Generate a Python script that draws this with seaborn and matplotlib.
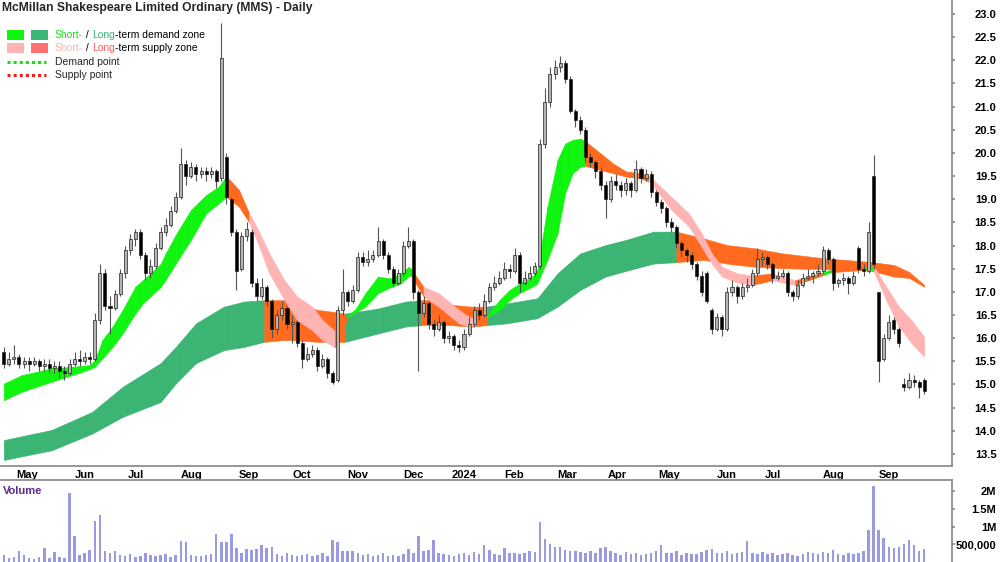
import numpy as np
import pandas as pd
import matplotlib
matplotlib.use('Agg')
import matplotlib.pyplot as plt
from matplotlib.patches import Rectangle
from matplotlib.lines import Line2D
import seaborn as sns

# ---- daily candles, one every second trading day ----
open_px = [15.70, 15.45, 15.55, 15.60, 15.45, 15.50, 15.45, 15.50, 15.40, 15.45,
           15.35, 15.40, 15.30, 15.25, 15.45, 15.55, 15.50, 15.60, 15.55, 16.40,
           17.40, 16.70, 16.65, 16.95, 17.40, 17.90, 18.15, 18.30, 17.80, 17.40,
           17.55, 17.95, 18.30, 18.45, 18.75, 19.05, 19.75, 19.50, 19.70, 19.55,
           19.60, 19.55, 19.60, 19.45, 19.90, 19.00, 18.30, 17.50, 18.20, 18.30,
           17.20, 16.90, 17.10, 16.80, 16.20, 16.50, 16.65, 16.30, 16.35, 15.90,
           15.55, 15.65, 15.75, 15.40, 15.55, 15.25, 15.10, 16.60, 17.00, 16.80,
           17.05, 17.75, 17.65, 17.70, 17.80, 18.10, 17.80, 17.50, 17.20, 17.40,
           18.00, 18.10, 17.00, 16.55, 16.75, 16.30, 16.20, 16.35, 16.00, 16.05,
           15.85, 15.80, 16.10, 16.30, 16.60, 16.50, 16.80, 17.10, 17.20, 17.30,
           17.50, 17.45, 17.80, 17.20, 17.30, 17.40, 17.55, 20.20, 21.10, 21.70,
           21.85, 21.95, 21.60, 20.90, 20.70, 20.50, 19.90, 19.80, 19.60, 19.30,
           19.00, 19.40, 19.30, 19.20, 19.35, 19.20, 19.65, 19.45, 19.55, 19.15,
           18.95, 18.80, 18.50, 18.40, 18.05, 17.90, 17.80, 17.60, 17.35, 17.40,
           16.60, 16.20, 16.45, 16.20, 17.00, 17.10, 16.90, 17.10, 17.15, 17.40,
           17.70, 17.75, 17.60, 17.30, 17.35, 17.40, 17.00, 16.90, 17.15, 17.30,
           17.35, 17.40, 17.45, 17.90, 17.70, 17.20, 17.25, 17.30, 17.20, 17.95,
           17.50, 17.45, 19.50, 17.00, 15.55, 16.00, 16.40, 16.20, 15.00, 14.95,
           15.10, 15.05, 15.10]
high_px = [15.80, 15.70, 15.85, 15.65, 15.60, 15.60, 15.60, 15.55, 15.55, 15.55,
           15.50, 15.50, 15.40, 15.55, 15.70, 15.75, 15.70, 15.70, 16.55, 17.60,
           17.50, 16.90, 17.05, 17.50, 18.00, 18.25, 18.35, 18.35, 17.85, 17.70,
           18.05, 18.40, 18.60, 18.85, 19.15, 20.10, 19.85, 19.80, 19.75, 19.70,
           19.70, 19.70, 19.65, 22.80, 20.00, 19.05, 18.35, 18.30, 18.50, 18.35,
           17.30, 17.30, 17.15, 16.85, 16.60, 16.80, 16.70, 16.50, 16.40, 15.95,
           15.80, 15.85, 15.80, 15.65, 15.60, 15.30, 16.70, 17.50, 17.05, 17.15,
           17.85, 17.85, 17.90, 17.90, 18.40, 18.15, 17.85, 17.55, 17.50, 18.10,
           18.40, 18.15, 17.05, 16.90, 16.80, 16.40, 16.50, 16.40, 16.15, 16.10,
           15.95, 16.20, 16.45, 16.70, 16.75, 16.95, 17.20, 17.35, 17.45, 17.65,
           17.60, 17.95, 17.85, 17.45, 17.55, 17.65, 20.30, 21.40, 21.85, 22.00,
           22.10, 22.00, 21.65, 20.95, 20.80, 20.55, 20.00, 19.85, 19.70, 19.40,
           19.50, 19.55, 19.40, 19.45, 19.40, 19.85, 19.70, 19.65, 19.60, 19.20,
           19.00, 18.85, 18.60, 18.45, 18.10, 17.95, 17.85, 17.65, 17.45, 17.45,
           16.65, 16.55, 16.50, 17.10, 17.25, 17.15, 17.20, 17.30, 17.50, 17.95,
           17.85, 17.80, 17.65, 17.45, 17.50, 17.45, 17.05, 17.25, 17.40, 17.50,
           17.45, 17.60, 18.00, 17.95, 17.75, 17.30, 17.40, 17.35, 17.45, 18.00,
           17.60, 18.50, 19.95, 17.00, 16.10, 16.50, 16.45, 16.25, 15.15, 15.25,
           15.20, 15.10, 15.15]
low_px = [15.35, 15.40, 15.45, 15.35, 15.35, 15.30, 15.40, 15.30, 15.30, 15.25,
          15.25, 15.15, 15.10, 15.20, 15.40, 15.40, 15.45, 15.45, 15.50, 16.30,
          16.60, 16.10, 16.60, 16.90, 17.30, 17.80, 18.00, 17.70, 17.25, 17.30,
          17.50, 17.90, 18.20, 18.40, 18.70, 19.00, 19.30, 19.45, 19.40, 19.45,
          19.40, 19.45, 19.25, 19.40, 18.90, 18.20, 17.05, 17.45, 18.10, 17.10,
          16.80, 16.85, 16.70, 16.00, 16.10, 16.40, 16.20, 15.90, 15.80, 15.35,
          15.50, 15.60, 15.30, 15.35, 15.15, 15.00, 15.05, 16.50, 16.70, 16.75,
          17.00, 17.55, 17.55, 17.65, 17.75, 17.70, 17.40, 17.10, 17.15, 17.35,
          17.95, 16.85, 15.30, 16.45, 16.20, 16.05, 16.15, 15.90, 15.90, 15.75,
          15.70, 15.75, 16.05, 16.25, 16.40, 16.45, 16.75, 17.05, 17.15, 17.25,
          17.30, 17.40, 17.00, 17.15, 17.25, 17.35, 17.50, 20.10, 21.00, 21.60,
          21.75, 21.50, 20.85, 20.55, 20.40, 19.80, 19.70, 19.45, 19.20, 18.60,
          18.95, 19.20, 19.05, 19.10, 19.05, 19.15, 19.35, 19.40, 19.05, 18.85,
          18.70, 18.40, 18.30, 17.95, 17.75, 17.65, 17.50, 17.25, 16.90, 16.75,
          16.10, 16.15, 16.05, 16.15, 16.90, 16.75, 16.85, 17.00, 17.10, 17.35,
          17.55, 17.50, 17.20, 17.25, 17.30, 16.90, 16.80, 16.85, 17.10, 17.25,
          17.20, 17.35, 17.40, 17.60, 17.05, 17.10, 17.15, 16.95, 17.15, 17.40,
          17.35, 17.40, 17.50, 15.05, 15.50, 15.95, 16.10, 15.80, 14.85, 14.90,
          14.95, 14.70, 14.80]
close_px = [15.45, 15.55, 15.60, 15.45, 15.50, 15.45, 15.50, 15.40, 15.45, 15.35,
            15.40, 15.30, 15.25, 15.45, 15.55, 15.50, 15.60, 15.55, 16.40, 17.40,
            16.70, 16.65, 16.95, 17.40, 17.90, 18.15, 18.30, 17.80, 17.40, 17.55,
            17.95, 18.30, 18.45, 18.75, 19.05, 19.75, 19.50, 19.70, 19.55, 19.60,
            19.55, 19.60, 19.40, 22.05, 19.05, 18.30, 17.45, 18.20, 18.35, 17.20,
            16.90, 17.10, 16.80, 16.20, 16.50, 16.65, 16.30, 16.35, 15.90, 15.55,
            15.65, 15.75, 15.40, 15.55, 15.25, 15.05, 16.60, 17.00, 16.80, 17.05,
            17.75, 17.65, 17.70, 17.80, 18.10, 17.80, 17.50, 17.20, 17.40, 18.00,
            18.10, 17.00, 16.55, 16.75, 16.30, 16.20, 16.35, 16.00, 16.05, 15.85,
            15.80, 16.10, 16.30, 16.60, 16.50, 16.80, 17.10, 17.20, 17.30, 17.50,
            17.45, 17.80, 17.20, 17.30, 17.40, 17.55, 20.20, 21.10, 21.70, 21.85,
            21.95, 21.60, 20.90, 20.70, 20.50, 19.90, 19.80, 19.60, 19.30, 19.00,
            19.40, 19.30, 19.20, 19.35, 19.20, 19.65, 19.45, 19.55, 19.15, 18.95,
            18.80, 18.50, 18.40, 18.05, 17.90, 17.80, 17.60, 17.35, 17.00, 16.80,
            16.20, 16.45, 16.20, 17.00, 17.10, 16.90, 17.10, 17.15, 17.40, 17.70,
            17.75, 17.60, 17.30, 17.35, 17.40, 17.00, 16.90, 17.15, 17.30, 17.35,
            17.40, 17.45, 17.90, 17.70, 17.20, 17.25, 17.30, 17.20, 17.35, 17.50,
            17.45, 18.30, 17.60, 15.50, 16.00, 16.35, 16.20, 15.90, 14.95, 15.10,
            15.05, 14.95, 14.85]
volume_k = [200, 100, 150, 310, 200, 120, 90, 150, 385, 110,
            290, 140, 120, 1940, 720, 200, 250, 330, 1160, 1310,
            300, 250, 320, 200, 180, 230, 150, 170, 260, 210,
            160, 200, 230, 150, 210, 590, 550, 200, 180, 160,
            200, 230, 780, 570, 560, 780, 390, 250, 370, 350,
            360, 480, 400, 420, 220, 180, 250, 200, 160, 190,
            230, 170, 200, 250, 180, 620, 550, 300, 320, 320,
            250, 200, 230, 170, 210, 240, 180, 200, 170, 230,
            360, 250, 720, 300, 350, 620, 260, 220, 200, 180,
            230, 250, 210, 280, 220, 480, 350, 220, 200, 400,
            250, 250, 230, 260, 300, 280, 1120, 640, 520, 430,
            430, 350, 320, 300, 280, 250, 300, 260, 400, 430,
            300, 250, 200, 280, 220, 260, 200, 230, 250, 300,
            470, 260, 240, 300, 200, 250, 220, 230, 280, 350,
            380, 260, 240, 300, 220, 250, 280, 590, 250, 230,
            280, 220, 260, 200, 230, 250, 210, 180, 230, 270,
            250, 220, 280, 240, 350, 230, 200, 260, 220, 240,
            300, 900, 2150, 900, 670, 430, 400, 420, 500, 620,
            480, 300, 380]

# ---- short-term band (trading-day index, top, bottom, zone from here on) ----
st_day = [0, 7, 19, 27, 34, 36, 39, 43, 47, 52, 55, 58, 62, 64, 68, 74, 80, 85, 88, 93,
          97, 100, 105, 111, 116, 122, 126, 131, 136, 139, 143, 148, 153, 157, 160, 161,
          166, 172, 180, 184, 187, 191, 196, 200, 204, 209, 211, 215, 219, 222, 225, 228,
          230, 236, 241, 246, 252, 255, 257, 264, 271, 276, 280, 284, 290, 296, 304, 313,
          324, 327, 341, 344, 349, 354, 359, 364]
st_hi = [15.02, 15.20, 15.35, 15.38, 15.42, 15.53, 15.96, 16.25, 16.61, 17.11, 17.25, 17.40,
         17.60, 17.83, 18.23, 18.77, 19.09, 19.27, 19.50, 19.20,
         18.70, 18.40, 17.83, 17.25, 16.90, 16.68, 16.39, 16.15, 16.50, 16.62, 16.97, 17.33,
         17.29, 17.40, 17.54, 17.50,
         17.11, 16.97, 16.61, 16.46, 16.40, 16.47, 16.82, 17.04, 17.18, 17.33, 17.47, 18.84,
         19.85, 20.20, 20.28, 20.31,
         20.25, 19.99, 19.77, 19.60, 19.56, 19.50, 19.41, 19.05, 18.69, 18.26, 17.83, 17.54,
         17.40, 17.35, 17.40, 17.25,
         17.42, 17.48, 17.52, 17.55, 17.11, 16.68, 16.39, 16.03]
st_lo = [14.66, 14.84, 15.06, 15.20, 15.33, 15.38, 15.56, 15.81, 16.10, 16.53, 16.75, 16.90,
         17.10, 17.26, 17.61, 18.12, 18.69, 18.91, 19.05, 18.84,
         18.50, 18.12, 17.40, 16.82, 16.39, 16.17, 15.96, 15.80, 16.45, 16.55, 16.68, 16.97,
         17.10, 17.18, 17.33, 17.35,
         16.90, 16.68, 16.32, 16.25, 16.30, 16.45, 16.60, 16.82, 16.97, 17.11, 17.18, 17.69,
         18.26, 19.13, 19.56, 19.70,
         19.72, 19.63, 19.56, 19.49, 19.45, 19.38, 19.27, 18.77, 18.41, 17.97, 17.61, 17.33,
         17.20, 17.15, 17.25, 17.15,
         17.36, 17.42, 17.48, 17.45, 16.82, 16.25, 15.89, 15.60]
st_zone = ['up'] * 18 + ['turn', 'turn'] + ['down'] * 7 + ['turn'] + ['up'] * 7 + ['turn'] + \
          ['down'] * 4 + ['turn'] + ['up'] * 11 + ['turn'] * 5 + ['down'] * 8 + \
          ['turn', 'down', 'turn', 'up', 'turn', 'up'] + ['down'] * 6

# ---- long-term band ----
lt_day = [0, 19, 35, 47, 62, 68, 76, 87, 95, 103, 111, 117, 124, 130, 135, 148, 159, 165,
          169, 177, 185, 191, 199, 211, 219, 228, 238, 246, 257, 266, 277, 286, 297, 308,
          325, 342, 352, 358, 364]
lt_hi = [13.80, 14.02, 14.41, 14.95, 15.46, 15.81, 16.32, 16.68, 16.79, 16.82, 16.82, 16.72,
         16.61, 16.57, 16.53, 16.64, 16.79, 16.82, 16.82, 16.72, 16.68, 16.68, 16.75, 16.86,
         17.40, 17.83, 18.01, 18.12, 18.30, 18.30, 18.15, 18.01, 17.94, 17.83, 17.72, 17.65,
         17.58, 17.43, 17.15]
lt_lo = [13.37, 13.58, 13.94, 14.30, 14.62, 15.02, 15.46, 15.74, 15.81, 15.92, 15.96, 15.95,
         15.92, 15.92, 15.92, 16.10, 16.25, 16.28, 16.28, 16.28, 16.25, 16.28, 16.32, 16.43,
         16.68, 17.04, 17.33, 17.45, 17.61, 17.64, 17.69, 17.61, 17.54, 17.51, 17.49, 17.47,
         17.33, 17.30, 17.11]
lt_zone = ['up'] * 9 + ['down'] * 5 + ['up'] * 3 + ['down'] * 4 + ['up'] * 8 + ['down'] * 10

asx_holidays = ['2023-04-25', '2023-06-12', '2023-12-25', '2023-12-26', '2024-01-01',
                '2024-01-26', '2024-03-29', '2024-04-01', '2024-04-25', '2024-06-10']

# ---- setup ----
sns.set_theme(style='white')
plt.rcParams['font.family'] = ['Liberation Sans', 'DejaVu Sans']

n_days = 2 * len(close_px) - 1
dates = pd.bdate_range('2023-04-21', periods=n_days, freq='C', holidays=asx_holidays)
day = np.arange(0, n_days, 2)

o = np.array(open_px); c = np.array(close_px)
h = np.array(high_px); l = np.array(low_px)

W, H = 1000, 562
fig = plt.figure(figsize=(10, 5.62), dpi=100)
ax = fig.add_axes([0, 1 - 466 / H, 952 / W, 466 / H])
axv = fig.add_axes([0, 0, 952 / W, 82 / H])

ST_COL = {'up': '#10f510', 'down': '#ffb4b4', 'turn': '#ff6a1f'}
LT_COL = {'up': '#3cb474', 'down': '#ff6a1f'}

for i in range(len(lt_day) - 1):
    col = LT_COL[lt_zone[i]]
    ax.fill_between(lt_day[i:i + 2], lt_lo[i:i + 2], lt_hi[i:i + 2],
                    color=col, ec=col, lw=0.4, zorder=1)
for i in range(len(st_day) - 1):
    col = ST_COL[st_zone[i]]
    ax.fill_between(st_day[i:i + 2], st_lo[i:i + 2], st_hi[i:i + 2],
                    color=col, ec=col, lw=0.4, zorder=2)

# candles
up = c >= o
ax.vlines(day, l, h, color='#555555', lw=0.8, zorder=3)
body_lo = np.minimum(o, c)
body_h = np.maximum(np.abs(c - o), 0.03)
ax.bar(day, body_h, bottom=body_lo, width=1.2,
       color=np.where(up, '#b4b4b4', '#000000'), edgecolor='#222222', linewidth=0.5, zorder=4)

ax.set_xlim(-1.5, 375)
ax.set_ylim(13.24, 23.30)
ax.spines[['top', 'left']].set_visible(False)
for s in ('right', 'bottom'):
    ax.spines[s].set_color('#8a8a8a')
ax.yaxis.tick_right()
ax.set_yticks(np.arange(13.5, 23.01, 0.5))
ax.set_yticklabels([f'{v:.1f}' for v in np.arange(13.5, 23.01, 0.5)])
ax.tick_params(axis='y', direction='out', length=2, pad=30, labelsize=8,
               color='#8a8a8a', labelcolor='black')

month_start = pd.Series(dates.to_period('M'))
first = (month_start != month_start.shift()).values
first[0] = False
tick_pos = np.flatnonzero(first)
tick_lab = [d.strftime('%Y') if d.month == 1 else d.strftime('%b') for d in dates[tick_pos]]
ax.set_xticks(tick_pos)
ax.set_xticklabels(tick_lab)
ax.tick_params(axis='x', direction='out', length=2.5, pad=0.5, labelsize=8,
               color='#8a8a8a', labelcolor='black')
for lb in ax.get_yticklabels():
    lb.set_ha('right'); lb.set_fontweight('bold')
for lb in ax.get_xticklabels():
    lb.set_ha('left'); lb.set_fontweight('bold')

# volume
vol = np.array(volume_k) * 1000
sns.barplot(x=day, y=vol, native_scale=True, width=0.5, color='#9a9ae0',
            saturation=1, errorbar=None, linewidth=0, ax=axv)
axv.set_xlim(-1.5, 375)
axv.set_ylim(0, 2.31e6)
axv.set_xlabel(''); axv.set_ylabel('')
axv.set_xticks([])
axv.spines[['left', 'bottom']].set_visible(False)
for s in ('right', 'top'):
    axv.spines[s].set_color('#8a8a8a')
axv.yaxis.tick_right()
axv.set_yticks([500000, 1000000, 1500000, 2000000])
axv.set_yticklabels(['500,000', '1M', '1.5M', '2M'])
axv.tick_params(axis='y', direction='out', length=2, pad=30, labelsize=8,
                color='#8a8a8a', labelcolor='black')
for lb in axv.get_yticklabels():
    lb.set_ha('right'); lb.set_fontweight('bold')
axv.text(3 / 952, 0.86, 'Volume', transform=axv.transAxes, color='#5b2a8e',
         fontsize=8, fontweight='bold', va='center', ha='left')

# title and legend
fig.text(2 / W, 1 - 8 / H, 'McMillan Shakespeare Limited Ordinary (MMS) - Daily',
         fontsize=8.7, fontweight='bold', va='center', ha='left')

renderer = fig.canvas.get_renderer()

def text_w(s, size):
    if not s:
        return 0.0
    t = fig.text(0, 0, s + '|', fontsize=size)
    w1 = t.get_window_extent(renderer).width
    t.set_text('|')
    w2 = t.get_window_extent(renderer).width
    t.remove()
    return w1 - w2

def rich_row(x, y, parts, size=7.5):
    prefix = ''
    for s, col in parts:
        fig.text((x + text_w(prefix, size)) / W, 1 - y / H, s, color=col,
                 fontsize=size, va='center', ha='left')
        prefix += s

for (x0, y0, col) in [(7, 30, '#10f510'), (31, 30, '#3cb474'),
                      (7, 43, '#ffb4b4'), (31, 43, '#ff7070')]:
    fig.add_artist(Rectangle((x0 / W, 1 - (y0 + 10) / H), 17 / W, 10 / H,
                             transform=fig.transFigure, fc=col, ec='none'))
rich_row(55, 35, [('Short-', '#14e014'), (' / ', 'black'), ('Long', '#3cb474'),
                  ('-term demand zone', 'black')])
rich_row(55, 48, [('Short-', '#ffb4b4'), (' / ', 'black'), ('Long', '#ff6060'),
                  ('-term supply zone', 'black')])
for (y0, col, lab) in [(62, '#14e014', 'Demand point'), (75, '#ee1c1c', 'Supply point')]:
    fig.add_artist(Line2D([7 / W, 46 / W], [1 - y0 / H, 1 - y0 / H], transform=fig.transFigure,
                          color=col, lw=2.2, ls=(0, (1, 1))))
    fig.text(55 / W, 1 - y0 / H, lab, fontsize=7.5, va='center', ha='left')

fig.savefig('out.png', dpi=100)
